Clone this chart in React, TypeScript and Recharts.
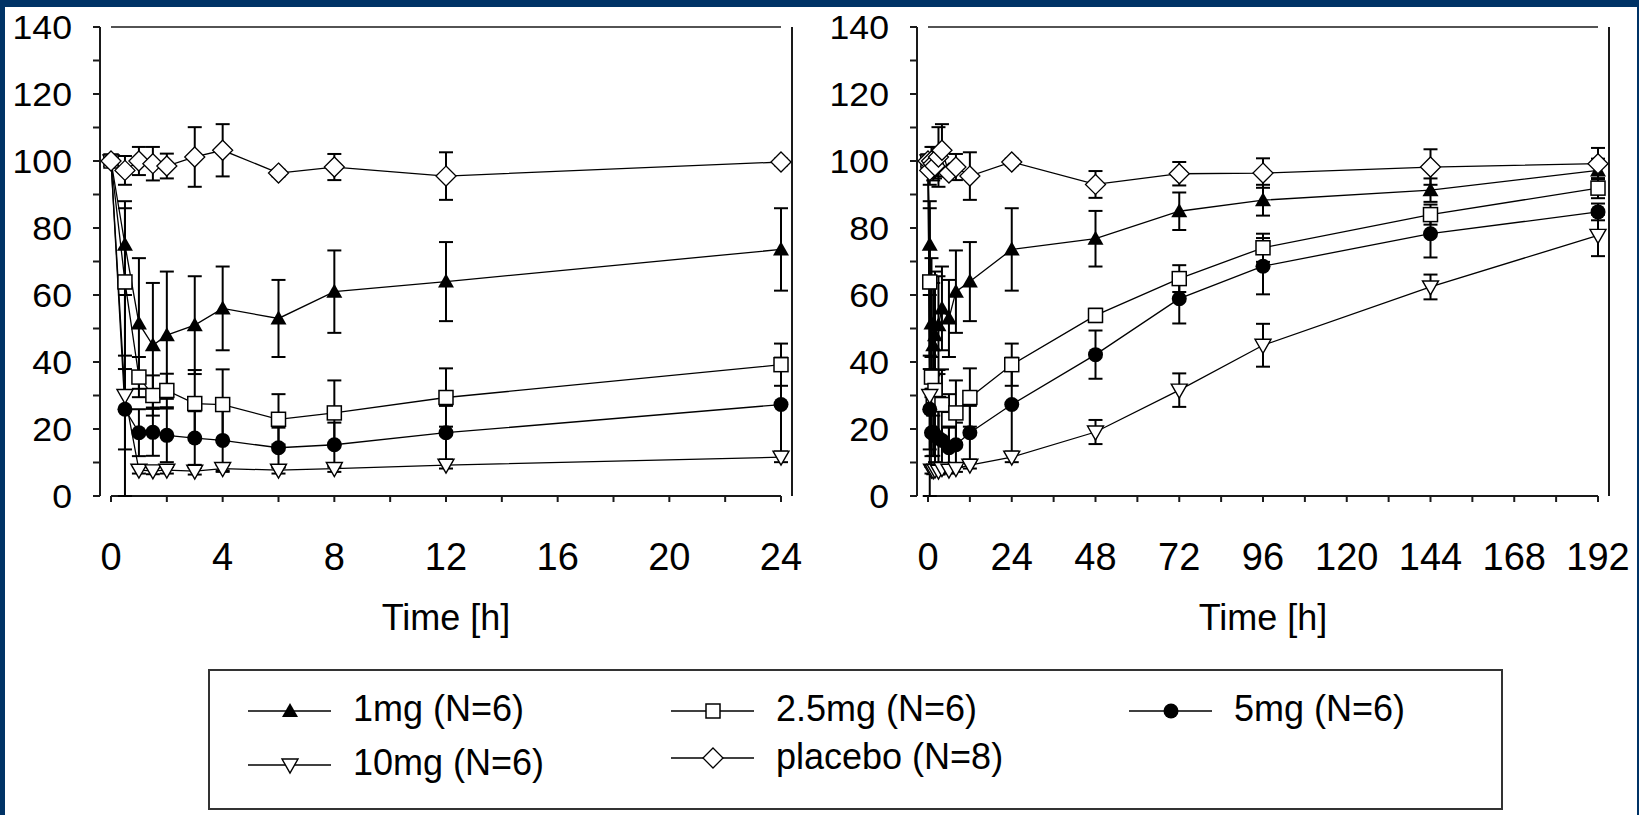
import React from "react";
import { LineChart, Line, XAxis, YAxis, ErrorBar, ReferenceLine } from "recharts";

const FONT = '"Liberation Sans", Arial, sans-serif';
const INK = "#1a1a1a";
const NAVY = "#003366";

// sampling times [h]
const times = [0, 0.5, 1, 1.5, 2, 3, 4, 6, 8, 12, 24, 48, 72, 96, 144, 192];

// % of baseline, mean and SD per dose group
const dose1 = [100, 75, 51.5, 45, 48, 51, 56, 53, 61, 64, 73.6, 76.8, 85, 88.3, 91.3, 97.2];
const dose1Sd = [0, 13, 19.5, 18.6, 19, 14.6, 12.5, 11.5, 12.3, 11.8, 12.3, 8.3, 5.6, 4.6, 3.5, 3.5];
const dose25 = [100, 63.9, 35.5, 30, 31.5, 27.6, 27.3, 22.9, 24.8, 29.4, 39.2, 53.9, 64.9, 74.1, 84, 91.9];
const dose25Sd = [0, 22, 6, 6, 5, 10, 10.5, 7.5, 9.7, 8.7, 6.3, 2, 4, 4.2, 3, 3];
const dose5 = [100, 25.9, 18.9, 19, 18.1, 17.3, 16.6, 14.4, 15.3, 18.9, 27.3, 42.2, 58.9, 68.6, 78.3, 84.8];
const dose5Sd = [0, 12, 7, 7, 8, 8, 9, 6, 6.6, 8, 14, 7.2, 7.4, 8.4, 7.1, 2.5];
const dose10 = [100, 30, 7.7, 7.5, 7.7, 7.4, 8.2, 7.7, 8.2, 9.2, 11.6, 19.1, 31.6, 45, 62.4, 77.8];
const dose10Sd = [0, 30, 1, 1, 1, 1, 1, 1, 1, 1, 1.5, 3.6, 5, 6.4, 3.7, 6.2];
const placebo = [100, 97.2, 100, 99.2, 98.5, 101.2, 103.2, 96.4, 98.2, 95.5, 99.7, 93, 96.2, 96.4, 98.2, 99.2];
const placeboSd = [0, 4.3, 4.2, 5, 3.7, 8.9, 7.8, 1, 3.9, 7.1, 1, 4, 3.5, 4.4, 5.3, 4.7];

const yTicks = [0, 10, 20, 30, 40, 50, 60, 70, 80, 90, 100, 110, 120, 130, 140];
const yTickLabels = [0, 20, 40, 60, 80, 100, 120, 140];
const shortTicks = [0, 2, 4, 6, 8, 10, 12, 14, 16, 18, 20, 22, 24];
const shortTickLabels = [0, 4, 8, 12, 16, 20, 24];
const longTicks = [0, 12, 24, 36, 48, 60, 72, 84, 96, 108, 120, 132, 144, 156, 168, 180, 192];
const longTickLabels = [0, 24, 48, 72, 96, 120, 144, 168, 192];

type Shape = "triUp" | "square" | "circle" | "triDown" | "diamond";

const series: { key: string; name: string; values: number[]; sd: number[]; shape: Shape }[] = [
  { key: "d1", name: "1mg (N=6)", values: dose1, sd: dose1Sd, shape: "triUp" },
  { key: "d25", name: "2.5mg (N=6)", values: dose25, sd: dose25Sd, shape: "square" },
  { key: "d5", name: "5mg (N=6)", values: dose5, sd: dose5Sd, shape: "circle" },
  { key: "d10", name: "10mg (N=6)", values: dose10, sd: dose10Sd, shape: "triDown" },
  { key: "pl", name: "placebo (N=8)", values: placebo, sd: placeboSd, shape: "diamond" },
];

const table = times.map((t, i) => {
  const row: Record<string, number> = { t };
  series.forEach((s) => {
    row[s.key] = s.values[i];
    row[s.key + "Sd"] = s.sd[i];
  });
  return row;
});

function Marker({ cx, cy, shape }: { cx: number; cy: number; shape: Shape }) {
  switch (shape) {
    case "triUp":
      return <polygon points={`${cx},${cy - 8} ${cx + 8},${cy + 6} ${cx - 8},${cy + 6}`} fill="#000" />;
    case "square":
      return <rect x={cx - 7} y={cy - 7} width={14} height={14} fill="#fff" stroke="#000" strokeWidth={1.5} />;
    case "circle":
      return <circle cx={cx} cy={cy} r={7.5} fill="#000" />;
    case "triDown":
      return (
        <polygon
          points={`${cx - 8},${cy - 6} ${cx + 8},${cy - 6} ${cx},${cy + 8}`}
          fill="#fff"
          stroke="#000"
          strokeWidth={1.4}
        />
      );
    default:
      return (
        <polygon
          points={`${cx},${cy - 10} ${cx + 10},${cy} ${cx},${cy + 10} ${cx - 10},${cy}`}
          fill="#fff"
          stroke="#000"
          strokeWidth={1.3}
        />
      );
  }
}

function YTick({ x, y, payload }: any) {
  if (!yTickLabels.includes(payload.value)) return <g />;
  return (
    <text
      transform={`translate(${x},${y}) scale(1.08,1)`}
      textAnchor="end"
      dy="0.36em"
      fontSize={33}
      fontFamily={FONT}
      fill="#000"
    >
      {payload.value}
    </text>
  );
}

function XTick({ x, y, payload, labels }: any) {
  if (!labels.includes(payload.value)) return <g />;
  return (
    <text x={x} y={y} textAnchor="middle" fontSize={38} fontFamily={FONT} fill="#000">
      {payload.value}
    </text>
  );
}

function Panel({ left, xMax, ticks, labels }: { left: number; xMax: number; ticks: number[]; labels: number[] }) {
  const rows = table.filter((r) => r.t <= xMax);
  return (
    <div style={{ position: "absolute", left, top: 0 }}>
      <LineChart width={840} height={650} data={rows} margin={{ top: 27, right: 40, bottom: 0, left: 0 }}>
        <XAxis
          type="number"
          dataKey="t"
          domain={[0, xMax]}
          ticks={ticks}
          interval={0}
          padding={{ left: 11, right: 11 }}
          axisLine={false}
          tickLine={{ stroke: INK, strokeWidth: 2 }}
          tickSize={6}
          tickMargin={68}
          height={154}
          tick={(p: any) => <XTick {...p} labels={labels} />}
          label={{ value: "Time [h]", position: "insideBottom", offset: 20, fill: "#000", fontSize: 36, fontFamily: FONT }}
        />
        <YAxis
          type="number"
          domain={[0, 140]}
          ticks={yTicks}
          interval={0}
          width={100}
          axisLine={{ stroke: INK, strokeWidth: 2 }}
          tickLine={{ stroke: INK, strokeWidth: 2 }}
          tickSize={7}
          tickMargin={21}
          tick={YTick}
        />
        <YAxis
          yAxisId="frame"
          orientation="right"
          type="number"
          domain={[0, 140]}
          width={8}
          tick={false}
          tickLine={false}
          axisLine={{ stroke: INK, strokeWidth: 2 }}
        />
        <ReferenceLine segment={[{ x: 0, y: 0 }, { x: xMax, y: 0 }]} stroke={INK} strokeWidth={2} ifOverflow="visible" />
        <ReferenceLine segment={[{ x: 0, y: 140 }, { x: xMax, y: 140 }]} stroke={INK} strokeWidth={1.6} ifOverflow="visible" />
        {series.map((s) => (
          <Line
            key={s.key}
            type="linear"
            dataKey={s.key}
            stroke="#000"
            strokeWidth={1.3}
            isAnimationActive={false}
            activeDot={false}
            dot={(p: any) =>
              p.cx == null || p.cy == null ? (
                <g key={`${s.key}-${p.index}`} />
              ) : (
                <Marker key={`${s.key}-${p.index}`} cx={p.cx} cy={p.cy} shape={s.shape} />
              )
            }
          >
            <ErrorBar dataKey={s.key + "Sd"} direction="y" width={7} stroke="#000" strokeWidth={2} />
          </Line>
        ))}
      </LineChart>
    </div>
  );
}

// legend slots inside the legend box (box at 208,669)
const legendSlots = [
  { lineX: 40, y: 42, textY: 52 },
  { lineX: 463, y: 42, textY: 52 },
  { lineX: 921, y: 42, textY: 52 },
  { lineX: 40, y: 96, textY: 106 },
  { lineX: 463, y: 89, textY: 100 },
];

function LegendBox() {
  return (
    <svg style={{ position: "absolute", left: 208, top: 669 }} width={1296} height={142}>
      <rect x={1} y={1} width={1293} height={139} fill="#fff" stroke="#333" strokeWidth={2} />
      {series.map((s, i) => {
        const slot = legendSlots[i];
        return (
          <g key={s.key}>
            <line x1={slot.lineX} x2={slot.lineX + 83} y1={slot.y} y2={slot.y} stroke="#000" strokeWidth={1.5} />
            <Marker cx={slot.lineX + 42} cy={slot.y} shape={s.shape} />
            <text x={slot.lineX + 105} y={slot.textY} fontSize={36} fontFamily={FONT} fill="#000">
              {s.name}
            </text>
          </g>
        );
      })}
    </svg>
  );
}

export default function App() {
  return (
    <div style={{ position: "absolute", left: 0, top: 0, width: 1639, height: 815, background: NAVY, overflow: "hidden" }}>
      <div style={{ position: "absolute", left: 5, top: 7, width: 1632, height: 808, background: "#fff" }} />
      <Panel left={0} xMax={24} ticks={shortTicks} labels={shortTickLabels} />
      <Panel left={817} xMax={192} ticks={longTicks} labels={longTickLabels} />
      <LegendBox />
    </div>
  );
}
